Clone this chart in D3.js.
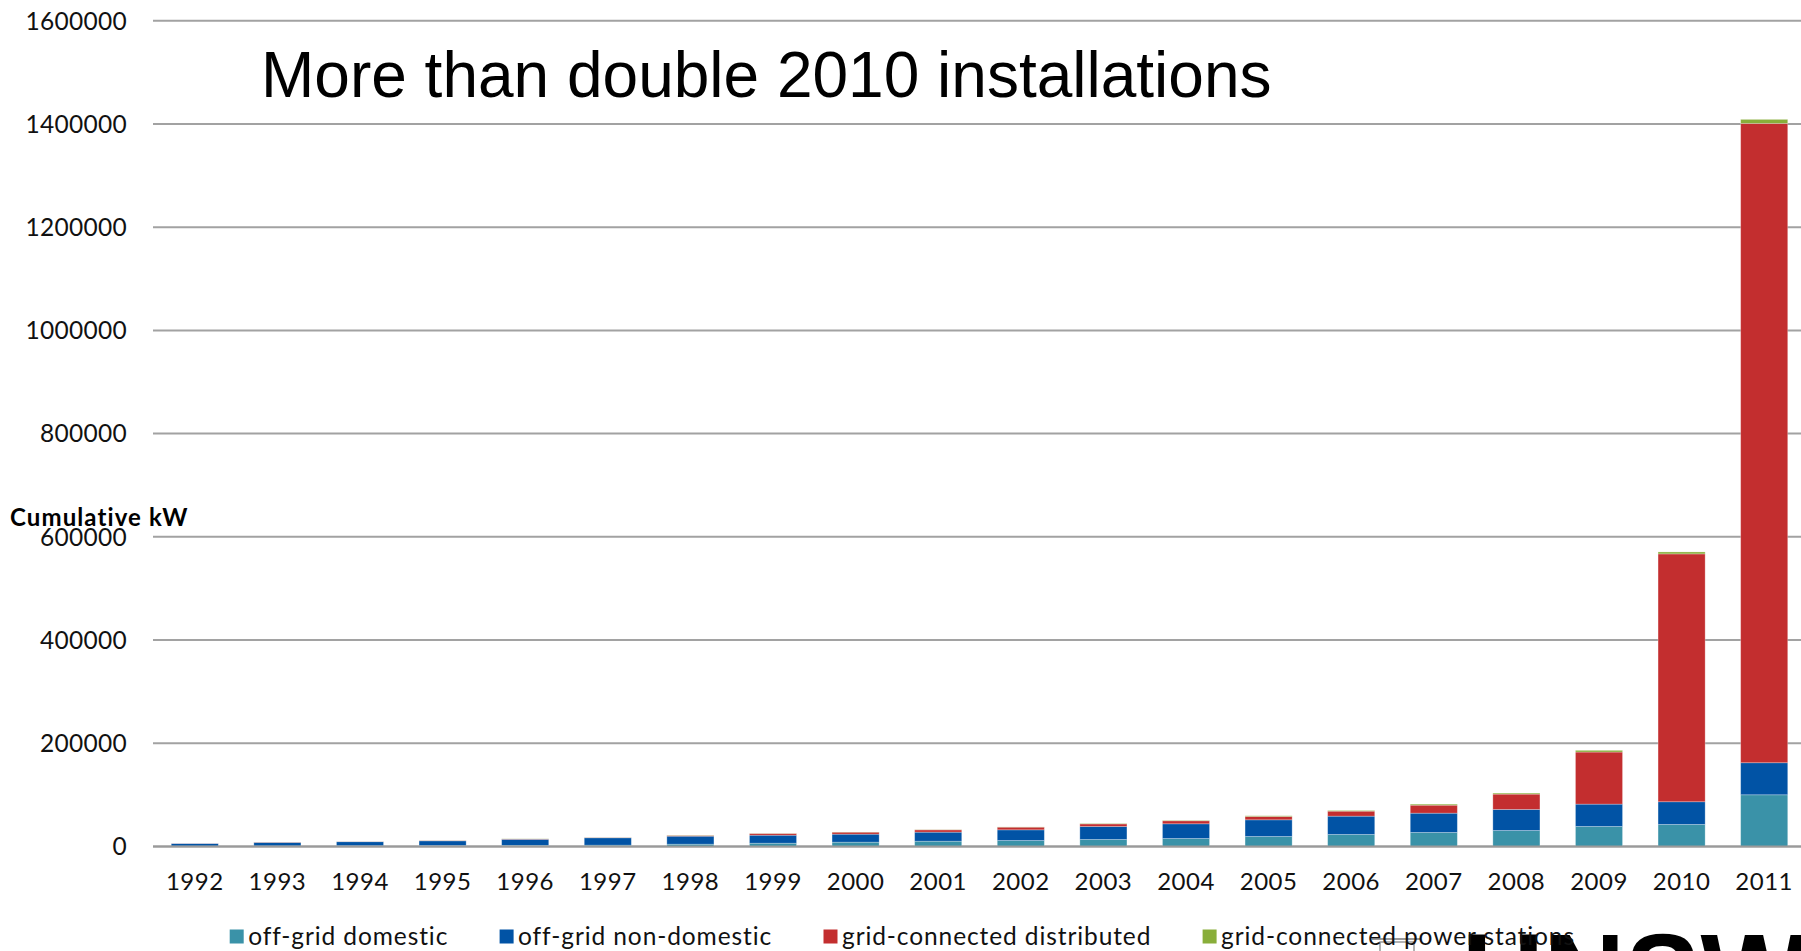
<!DOCTYPE html>
<html>
<head>
<meta charset="utf-8">
<script src="https://cdn.jsdelivr.net/npm/d3@7/dist/d3.min.js"></script>
<style>
  html, body { margin: 0; padding: 0; background: #ffffff; overflow: hidden; }
  svg { display: block; }
</style>
</head>
<body>
<svg id="chart" width="1801" height="951"></svg>
<script>
// Cumulative installed PV capacity in Australia (kW), by market segment
const years = ["1992","1993","1994","1995","1996","1997","1998","1999","2000","2001",
               "2002","2003","2004","2005","2006","2007","2008","2009","2010","2011"];

const offGridDomestic    = [1000, 1200, 1500, 1800, 2200, 2600, 4500, 6400, 8400, 10300,
                            11600, 13600, 15500, 19400, 23300, 27200, 31000, 38800, 42700, 100200];
const offGridNonDomestic = [4700, 6800, 7800, 9200, 11800, 14300, 15500, 15500, 15500, 17500,
                            20700, 25200, 28500, 32300, 35500, 37400, 40800, 43300, 44000, 62100];
const gridDistributed    = [200, 500, 300, 500, 600, 500, 1400, 3300, 3900, 4500,
                            5200, 5000, 5800, 6500, 9700, 15500, 29700, 100900, 480200, 1238700];
const gridPowerStations  = [0, 100, 100, 200, 300, 200, 500, 300, 300, 300,
                            400, 800, 800, 1300, 1300, 2000, 2000, 3300, 3800, 7800];

const seriesNames  = ["off-grid domestic", "off-grid non-domestic",
                      "grid-connected distributed", "grid-connected power stations"];
const seriesColors = ["#3a92a8", "#0153a5", "#c32e2f", "#89ae3a"];
const yTicks = [0, 200000, 400000, 600000, 800000, 1000000, 1200000, 1400000, 1600000];

const titleText = "More than double 2010 installations";
const yAxisLabel = "Cumulative kW";

// rows for the stack layout
const rows = years.map((y, i) => ({
  year: y,
  s0: offGridDomestic[i],
  s1: offGridNonDomestic[i],
  s2: gridDistributed[i],
  s3: gridPowerStations[i]
}));
const keys = ["s0", "s1", "s2", "s3"];

const svg = d3.select("#chart");
const labelFont = "Lato, 'Open Sans', sans-serif";

const x = d3.scaleBand()
  .domain(years)
  .range([153.5, 1805.5])
  .paddingInner(0.43)
  .paddingOuter(0.215);

const y = d3.scaleLinear()
  .domain([0, 1600000])
  .range([846.5, 20.7]);

// horizontal gridlines
svg.append("g")
  .selectAll("line")
  .data(yTicks)
  .join("line")
  .attr("x1", 153)
  .attr("x2", 1801)
  .attr("y1", d => y(d))
  .attr("y2", d => y(d))
  .attr("stroke", "#a2a2a2")
  .attr("stroke-width", 2);

// y tick labels
svg.append("g")
  .selectAll("text")
  .data(yTicks)
  .join("text")
  .attr("x", 127)
  .attr("y", d => y(d))
  .attr("dy", "0.36em")
  .attr("text-anchor", "end")
  .attr("font-family", labelFont)
  .attr("font-size", 24.5)
  .attr("letter-spacing", 0.3)
  .attr("fill", "#111")
  .text(d => d3.format("d")(d));

// stacked bars
const stacked = d3.stack().keys(keys)(rows);
svg.append("g")
  .selectAll("g")
  .data(stacked)
  .join("g")
  .attr("fill", (d, i) => seriesColors[i])
  .selectAll("rect")
  .data(d => d)
  .join("rect")
  .attr("x", d => x(d.data.year))
  .attr("width", x.bandwidth())
  .attr("y", d => y(d[1]))
  .attr("height", d => Math.max(0, y(d[0]) - y(d[1])))
  .attr("stroke", "rgba(255,255,255,0.35)")
  .attr("stroke-width", 0.8);

// baseline
svg.append("line")
  .attr("x1", 153).attr("x2", 1801)
  .attr("y1", y(0)).attr("y2", y(0))
  .attr("stroke", "#9a9a9a")
  .attr("stroke-width", 2);

// year labels
svg.append("g")
  .selectAll("text")
  .data(years)
  .join("text")
  .attr("x", d => x(d) + x.bandwidth() / 2)
  .attr("y", 889.5)
  .attr("text-anchor", "middle")
  .attr("font-family", labelFont)
  .attr("font-size", 24)
  .attr("letter-spacing", 0.5)
  .attr("fill", "#111")
  .text(d => d);

// axis title
svg.append("text")
  .attr("x", 10)
  .attr("y", 526)
  .attr("font-family", labelFont)
  .attr("font-weight", "bold")
  .attr("font-size", 24)
  .attr("letter-spacing", 1.1)
  .attr("fill", "#000")
  .text(yAxisLabel);

// headline
svg.append("text")
  .attr("x", 261)
  .attr("y", 97)
  .attr("font-family", "'Liberation Sans', Arial, sans-serif")
  .attr("font-size", 64)
  .attr("fill", "#000")
  .text(titleText);

// university wordmark at the bottom edge
const mark = svg.append("g");
mark.append("text")
  .attr("x", 1462)
  .attr("y", 1018)
  .attr("font-family", "'Liberation Sans', Arial, sans-serif")
  .attr("font-weight", "bold")
  .attr("font-size", 120)
  .attr("textLength", 345)
  .attr("lengthAdjust", "spacingAndGlyphs")
  .attr("fill", "#000")
  .text("UNSW");
mark.append("line")
  .attr("x1", 1372).attr("x2", 1421)
  .attr("y1", 939).attr("y2", 939)
  .attr("stroke", "#777").attr("stroke-width", 1.5);
mark.append("rect")
  .attr("x", 1380).attr("y", 942)
  .attr("width", 34).attr("height", 14)
  .attr("fill", "none")
  .attr("stroke", "#999").attr("stroke-width", 1.5);

// legend
const legendX = [229.7, 499.6, 823.5, 1202.6];
const legend = svg.append("g")
  .selectAll("g")
  .data(seriesNames)
  .join("g")
  .attr("transform", (d, i) => `translate(${legendX[i]},0)`);
legend.append("rect")
  .attr("x", 0)
  .attr("y", 929.5)
  .attr("width", 14)
  .attr("height", 14)
  .attr("fill", (d, i) => seriesColors[i]);
legend.append("text")
  .attr("x", 18.5)
  .attr("y", 945)
  .attr("font-family", labelFont)
  .attr("font-size", 24.5)
  .attr("letter-spacing", 0.9)
  .attr("fill", "#111")
  .text(d => d);
</script>
</body>
</html>
